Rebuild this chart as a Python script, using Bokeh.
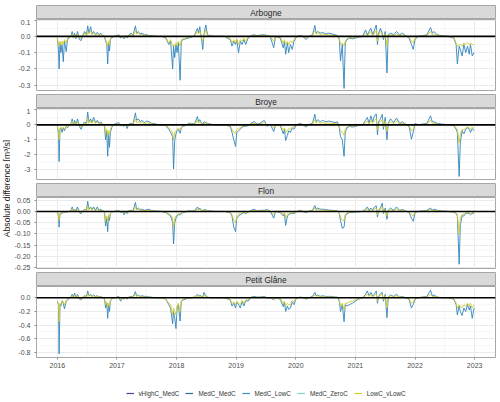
import math
from bokeh.plotting import figure
from bokeh.layouts import column, row
from bokeh.models import (ColumnDataSource, FixedTicker, Span, Legend, LegendItem,
                          Range1d, PrintfTickFormatter)
from bokeh.core.properties import value
from bokeh.embed import file_html
from bokeh.resources import INLINE

FONT = "Liberation Sans"

# ---------------- data (decimal years) ----------------
dates = [
    2016.00, 2016.02, 2016.03, 2016.045, 2016.06, 2016.08, 2016.10, 2016.12, 2016.15, 2016.17,
    2016.20, 2016.23, 2016.25, 2016.27, 2016.29, 2016.31, 2016.34, 2016.37, 2016.40, 2016.43,
    2016.46, 2016.49, 2016.51, 2016.53, 2016.56, 2016.58, 2016.61, 2016.64, 2016.67, 2016.70,
    2016.73, 2016.76, 2016.79, 2016.81, 2016.83, 2016.845, 2016.86, 2016.875, 2016.89, 2016.92, 2016.96,
    2017.00, 2017.03, 2017.06, 2017.09, 2017.12, 2017.15, 2017.17, 2017.20, 2017.24, 2017.27,
    2017.31, 2017.33, 2017.36, 2017.39, 2017.42, 2017.46, 2017.50, 2017.54, 2017.58, 2017.62,
    2017.68, 2017.75, 2017.82, 2017.87, 2017.90, 2017.935, 2017.95, 2017.97, 2017.99,
    2018.01, 2018.03, 2018.06, 2018.08, 2018.11, 2018.15, 2018.20, 2018.25, 2018.30, 2018.35,
    2018.37, 2018.39, 2018.42, 2018.44, 2018.46, 2018.49, 2018.52, 2018.56, 2018.65, 2018.80,
    2018.90, 2018.93, 2018.96, 2018.99,
    2019.01, 2019.04, 2019.07, 2019.10, 2019.13, 2019.16, 2019.20, 2019.25, 2019.30, 2019.35,
    2019.40, 2019.47, 2019.52, 2019.57, 2019.63, 2019.66, 2019.74, 2019.79, 2019.81, 2019.83,
    2019.86, 2019.88, 2019.91, 2019.94, 2019.97,
    2020.00, 2020.04, 2020.08, 2020.12, 2020.17, 2020.22, 2020.28, 2020.32, 2020.34, 2020.37,
    2020.41, 2020.45, 2020.50, 2020.55, 2020.61, 2020.66, 2020.70, 2020.73, 2020.75, 2020.78,
    2020.81, 2020.83, 2020.86, 2020.90, 2020.95,
    2021.00, 2021.05, 2021.12, 2021.17, 2021.20, 2021.23, 2021.26, 2021.29, 2021.32, 2021.35,
    2021.37, 2021.39, 2021.42, 2021.45, 2021.47, 2021.50, 2021.53, 2021.55, 2021.59, 2021.64,
    2021.69, 2021.74, 2021.79, 2021.84, 2021.90, 2021.94, 2021.97,
    2022.00, 2022.05, 2022.12, 2022.20, 2022.26, 2022.29, 2022.32, 2022.37, 2022.45, 2022.55,
    2022.65, 2022.69, 2022.71, 2022.74, 2022.76, 2022.79, 2022.82, 2022.85, 2022.88, 2022.91,
    2022.93, 2022.96, 2022.99,
]

arbogne_medc_lowc = [
    -0.01, -0.08, -0.20, -0.04, -0.10, -0.05, -0.156, -0.03, -0.094, -0.02,
    -0.01, 0.005, 0.030, -0.010, 0.020, -0.015, 0.030, -0.02, -0.025, 0.010,
    0.030, 0.010, 0.065, 0.020, 0.060, 0.015, 0.030, 0.010, 0.025, 0.010,
    0.020, 0.005, 0.000, -0.03, -0.05, -0.17, -0.04, -0.09, -0.02, -0.005, 0.000,
    0.005, 0.010, -0.010, 0.000, -0.015, 0.005, -0.01, 0.010, 0.020, 0.005,
    0.065, 0.020, 0.030, 0.015, 0.020, 0.010, 0.010, 0.005, 0.005, 0.002,
    0.000, 0.000, -0.01, -0.05, -0.03, -0.20, -0.06, -0.13, -0.05,
    -0.10, -0.04, -0.27, -0.03, -0.02, -0.015, -0.01, -0.005, 0.005, 0.050,
    0.020, 0.060, -0.02, -0.08, 0.010, 0.070, 0.010, 0.003, 0.000, 0.000,
    -0.02, -0.06, -0.03, -0.05,
    -0.02, -0.10, -0.03, -0.05, -0.02, -0.05, -0.01, 0.005, 0.010, 0.005,
    0.008, 0.010, 0.005, 0.000, -0.07, 0.000, -0.01, -0.07, -0.03, -0.11,
    -0.04, -0.10, -0.05, -0.08, -0.03,
    -0.01, 0.003, 0.005, 0.000, -0.02, 0.000, 0.010, 0.067, 0.020, 0.030,
    0.020, 0.025, 0.015, 0.020, 0.015, 0.010, 0.005, -0.02, -0.15, -0.05,
    -0.32, -0.04, -0.02, -0.01, -0.015,
    -0.01, -0.005, 0.000, 0.040, 0.010, 0.030, 0.050, 0.010, 0.040, 0.070,
    -0.05, 0.020, 0.050, 0.020, -0.02, 0.030, -0.225, 0.010, 0.020, 0.010,
    0.030, 0.010, 0.020, 0.005, -0.01, -0.05, -0.08,
    -0.02, 0.000, 0.003, 0.010, 0.055, 0.020, 0.030, 0.010, 0.003, 0.000,
    -0.01, -0.05, -0.17, -0.06, -0.08, -0.12, -0.05, -0.10, -0.06, -0.11,
    -0.05, -0.12, -0.10,
]
arbogne_lowc_vlowc = [
    -0.01, -0.05, -0.06, -0.03, -0.05, -0.03, -0.05, -0.02, -0.04, -0.01,
    -0.005, 0.003, 0.015, -0.005, 0.010, -0.01, 0.015, -0.01, -0.01, 0.005,
    0.020, 0.005, 0.030, 0.015, 0.035, 0.010, 0.020, 0.010, 0.015, 0.005,
    0.010, 0.003, 0.000, -0.02, -0.04, -0.06, -0.03, -0.05, -0.015, -0.003, 0.000,
    0.003, 0.005, -0.005, 0.000, -0.01, 0.003, -0.005, 0.005, 0.010, 0.003,
    0.035, 0.015, 0.020, 0.010, 0.010, 0.005, 0.005, 0.003, 0.003, 0.001,
    0.000, 0.000, -0.005, -0.04, -0.02, -0.06, -0.05, -0.06, -0.04,
    -0.05, -0.03, -0.06, -0.02, -0.015, -0.01, -0.005, -0.003, 0.003, 0.030,
    0.015, 0.035, -0.01, -0.03, 0.005, 0.040, 0.005, 0.002, 0.000, 0.000,
    -0.01, -0.04, -0.02, -0.04,
    -0.015, -0.05, -0.02, -0.03, -0.01, -0.03, -0.005, 0.003, 0.005, 0.003,
    0.004, 0.005, 0.003, 0.000, -0.03, 0.000, -0.005, -0.04, -0.02, -0.05,
    -0.03, -0.05, -0.03, -0.04, -0.02,
    -0.005, 0.002, 0.003, 0.000, -0.01, 0.000, 0.005, 0.035, 0.015, 0.020,
    0.010, 0.015, 0.010, 0.010, 0.008, 0.005, 0.003, -0.01, -0.05, -0.04,
    -0.06, -0.03, -0.015, -0.005, -0.01,
    -0.005, -0.003, 0.000, 0.020, 0.005, 0.015, 0.030, 0.005, 0.020, 0.040,
    -0.03, 0.010, 0.030, 0.010, -0.01, 0.015, -0.06, 0.005, 0.010, 0.005,
    0.015, 0.005, 0.010, 0.003, -0.005, -0.03, -0.04,
    -0.01, 0.000, 0.002, 0.005, 0.030, 0.010, 0.015, 0.005, 0.002, 0.000,
    -0.005, -0.04, -0.06, -0.05, -0.05, -0.06, -0.04, -0.05, -0.04, -0.05,
    -0.04, -0.05, -0.05,
]

broye_medc_lowc = [
    -0.05, -0.60, -2.45, -0.30, -0.20, -0.50, -0.20, -0.40, -0.10, -0.20,
    -0.05, 0.10, 0.40, 0.00, 0.30, -0.05, 0.40, -0.10, -0.30, 0.05,
    0.20, 0.10, 0.85, 0.20, 0.40, 0.15, 0.50, 0.15, 0.30, 0.10,
    0.20, 0.05, 0.00, -1.00, -0.40, -2.10, -0.60, -1.50, -0.50, -0.10, 0.05,
    0.10, 0.15, -0.05, 0.00, -0.10, 0.05, -0.25, 0.05, 0.10, 0.05,
    0.80, 0.30, 0.40, 0.20, 0.30, 0.15, 0.25, 0.20, 0.10, 0.10,
    0.02, 0.00, -0.05, -0.30, -0.50, -0.80, -2.95, -1.00, -0.60,
    -0.40, -0.30, -0.56, -0.20, -0.10, -0.05, 0.10, 0.10, 0.05, 0.55,
    0.20, 0.35, 0.10, 0.05, 0.20, 0.15, 0.10, 0.05, 0.00, 0.00,
    -0.10, -0.50, -1.00, -1.45,
    -0.50, -0.40, -0.30, -0.15, -0.10, -0.10, -0.05, 0.10, 0.22, 0.05,
    0.10, 0.30, -0.10, 0.05, -0.45, 0.00, -0.05, -0.60, -0.30, -1.05,
    -0.70, -0.40, -0.50, -0.20, -0.30,
    -0.05, 0.05, 0.10, 0.00, -0.15, 0.02, 0.10, 0.71, 0.20, 0.35,
    0.20, 0.30, 0.20, 0.25, 0.20, 0.15, 0.20, -0.20, -0.80, -1.00,
    -2.10, -0.50, -0.20, -0.10, -0.15,
    -0.10, -0.05, 0.00, 0.30, 0.50, 0.10, 0.60, 0.20, 0.60, 0.73,
    -0.67, 0.20, 0.40, 0.70, -0.30, 0.50, -1.00, 0.10, 0.40, 0.15,
    0.45, 0.10, 0.20, 0.05, -0.10, -0.96, -0.50,
    0.10, 0.00, 0.05, 0.10, 0.60, 0.20, 0.20, 0.10, 0.05, 0.00,
    -0.05, -0.30, -0.50, -3.45, -1.20, -0.40, -0.60, -0.30, -0.20, -0.30,
    -0.50, -0.25, -0.40,
]
broye_lowc_vlowc = [
    -0.05, -0.50, -1.00, -0.25, -0.15, -0.30, -0.15, -0.30, -0.08, -0.15,
    -0.03, 0.05, 0.25, 0.00, 0.15, -0.03, 0.20, -0.05, -0.15, 0.03,
    0.10, 0.05, 0.45, 0.10, 0.25, 0.10, 0.30, 0.10, 0.20, 0.05,
    0.10, 0.03, 0.00, -0.50, -0.30, -0.80, -0.40, -0.60, -0.30, -0.05, 0.02,
    0.05, 0.08, -0.03, 0.00, -0.05, 0.03, -0.10, 0.03, 0.05, 0.03,
    0.40, 0.15, 0.20, 0.10, 0.15, 0.08, 0.12, 0.10, 0.05, 0.05,
    0.01, 0.00, -0.03, -0.20, -0.30, -0.50, -1.00, -0.50, -0.40,
    -0.30, -0.20, -0.35, -0.15, -0.05, -0.03, 0.05, 0.05, 0.03, 0.30,
    0.10, 0.20, 0.05, 0.03, 0.10, 0.08, 0.05, 0.03, 0.00, 0.00,
    -0.05, -0.30, -0.50, -0.60,
    -0.30, -0.25, -0.20, -0.10, -0.05, -0.05, -0.03, 0.05, 0.10, 0.03,
    0.05, 0.15, -0.05, 0.02, -0.20, 0.00, -0.03, -0.35, -0.20, -0.50,
    -0.40, -0.25, -0.30, -0.15, -0.15,
    -0.03, 0.03, 0.05, 0.00, -0.08, 0.01, 0.05, 0.35, 0.12, 0.20,
    0.10, 0.15, 0.10, 0.12, 0.10, 0.08, 0.10, -0.10, -0.40, -0.50,
    -0.70, -0.30, -0.10, -0.05, -0.08,
    -0.05, -0.03, 0.00, 0.15, 0.25, 0.05, 0.30, 0.10, 0.30, 0.40,
    -0.35, 0.10, 0.20, 0.35, -0.15, 0.25, -0.45, 0.05, 0.20, 0.08,
    0.25, 0.05, 0.10, 0.03, -0.05, -0.40, -0.30,
    0.05, 0.00, 0.03, 0.05, 0.30, 0.10, 0.10, 0.05, 0.02, 0.00,
    -0.03, -0.20, -0.30, -1.20, -0.60, -0.30, -0.35, -0.20, -0.15, -0.20,
    -0.30, -0.15, -0.25,
]

flon_medc_lowc = [
    -0.002, -0.020, -0.070, -0.010, -0.010, -0.008, -0.005, -0.004, -0.003, -0.002,
    0.000, 0.005, 0.020, 0.002, 0.010, 0.000, 0.020, -0.005, -0.010, 0.003,
    0.010, 0.005, 0.045, 0.010, 0.020, 0.008, 0.020, 0.005, 0.020, 0.005,
    0.010, 0.002, 0.000, -0.065, -0.030, -0.090, -0.020, -0.040, -0.010, -0.002, 0.000,
    0.002, 0.005, -0.005, 0.000, -0.015, 0.002, -0.010, 0.003, 0.005, 0.002,
    0.040, 0.010, 0.015, 0.008, 0.010, 0.005, 0.008, 0.010, 0.003, 0.003,
    0.001, 0.000, -0.005, -0.015, -0.020, -0.050, -0.145, -0.050, -0.030,
    -0.020, -0.015, -0.015, -0.010, -0.005, -0.003, 0.003, 0.002, 0.002, 0.020,
    0.008, 0.015, 0.005, 0.003, 0.008, 0.006, 0.004, 0.002, 0.000, 0.000,
    -0.005, -0.020, -0.070, -0.090,
    -0.030, -0.020, -0.015, -0.010, -0.005, -0.010, -0.003, 0.005, 0.010, 0.002,
    0.005, 0.005, 0.008, 0.002, -0.030, 0.000, -0.005, -0.020, -0.010, -0.062,
    -0.020, -0.015, -0.010, -0.008, -0.010,
    -0.003, 0.002, 0.005, 0.000, -0.005, 0.001, 0.005, 0.026, 0.010, 0.015,
    0.010, 0.010, 0.008, 0.006, 0.005, 0.004, 0.003, -0.010, -0.040, -0.075,
    -0.070, -0.020, -0.010, -0.005, -0.005,
    -0.003, -0.002, 0.000, 0.010, 0.020, 0.005, 0.015, 0.005, 0.020, 0.025,
    -0.025, 0.005, 0.015, 0.037, -0.010, 0.015, -0.035, 0.005, 0.015, 0.005,
    0.020, 0.005, 0.008, 0.002, -0.005, -0.030, -0.044,
    -0.005, 0.000, 0.002, 0.005, 0.015, 0.005, 0.010, 0.005, 0.002, 0.000,
    -0.003, -0.010, -0.020, -0.235, -0.060, -0.020, -0.020, -0.010, -0.008, -0.010,
    -0.015, -0.008, -0.010,
]
flon_lowc_vlowc = [
    -0.002, -0.015, -0.040, -0.008, -0.008, -0.005, -0.004, -0.003, -0.002, -0.001,
    0.000, 0.003, 0.012, 0.001, 0.008, 0.000, 0.010, -0.003, -0.005, 0.002,
    0.008, 0.003, 0.025, 0.008, 0.015, 0.005, 0.012, 0.004, 0.010, 0.003,
    0.005, 0.001, 0.000, -0.040, -0.020, -0.050, -0.015, -0.025, -0.008, -0.001, 0.000,
    0.001, 0.003, -0.003, 0.000, -0.008, 0.001, -0.005, 0.002, 0.003, 0.001,
    0.020, 0.008, 0.010, 0.005, 0.006, 0.003, 0.004, 0.005, 0.002, 0.002,
    0.000, 0.000, -0.003, -0.010, -0.015, -0.030, -0.070, -0.030, -0.020,
    -0.015, -0.010, -0.010, -0.005, -0.003, -0.002, 0.002, 0.001, 0.001, 0.012,
    0.005, 0.010, 0.003, 0.002, 0.005, 0.004, 0.002, 0.001, 0.000, 0.000,
    -0.003, -0.015, -0.040, -0.050,
    -0.020, -0.010, -0.010, -0.005, -0.003, -0.005, -0.002, 0.003, 0.005, 0.001,
    0.003, 0.003, 0.004, 0.001, -0.015, 0.000, -0.003, -0.012, -0.006, -0.030,
    -0.012, -0.010, -0.006, -0.005, -0.006,
    -0.002, 0.001, 0.003, 0.000, -0.003, 0.001, 0.003, 0.015, 0.006, 0.008,
    0.005, 0.006, 0.004, 0.003, 0.003, 0.002, 0.002, -0.006, -0.025, -0.040,
    -0.040, -0.012, -0.006, -0.003, -0.003,
    -0.002, -0.001, 0.000, 0.006, 0.010, 0.003, 0.008, 0.003, 0.010, 0.015,
    -0.015, 0.003, 0.008, 0.020, -0.005, 0.008, -0.020, 0.003, 0.008, 0.003,
    0.010, 0.003, 0.004, 0.001, -0.003, -0.015, -0.020,
    -0.003, 0.000, 0.001, 0.003, 0.008, 0.003, 0.005, 0.003, 0.001, 0.000,
    -0.002, -0.008, -0.015, -0.100, -0.030, -0.012, -0.012, -0.006, -0.005, -0.006,
    -0.010, -0.005, -0.006,
]

petit_glane_medc_lowc = [
    -0.05, -0.10, -0.82, -0.10, -0.12, -0.05, -0.08, -0.16, -0.05, -0.03,
    -0.01, 0.02, 0.05, 0.01, 0.07, 0.00, 0.05, -0.02, -0.03, 0.01,
    0.03, 0.02, 0.10, 0.03, 0.05, 0.02, 0.04, 0.02, 0.03, 0.01,
    0.02, 0.00, -0.01, -0.15, -0.08, -0.30, -0.10, -0.20, -0.05, -0.01, 0.00,
    0.01, 0.02, -0.05, 0.00, -0.02, 0.01, -0.02, 0.01, 0.02, 0.01,
    0.09, 0.03, 0.04, 0.02, 0.03, 0.02, 0.02, 0.01, 0.01, 0.00,
    0.00, 0.00, -0.02, -0.10, -0.15, -0.38, -0.20, -0.30, -0.45,
    -0.15, -0.10, -0.34, -0.05, -0.03, -0.02, 0.00, 0.00, 0.01, 0.05,
    0.02, 0.04, 0.02, 0.01, 0.078, 0.03, 0.01, 0.00, 0.00, 0.00,
    -0.03, -0.12, -0.08, -0.15,
    -0.06, -0.10, -0.15, -0.05, -0.12, -0.04, -0.05, 0.01, 0.02, 0.01,
    0.01, 0.02, 0.00, 0.00, -0.03, 0.00, -0.02, -0.13, -0.06, -0.20,
    -0.12, -0.17, -0.15, -0.06, -0.10,
    -0.02, 0.00, 0.01, 0.00, -0.02, 0.00, 0.02, 0.08, 0.03, 0.04,
    0.02, 0.03, 0.02, 0.02, 0.02, 0.01, 0.01, -0.05, -0.20, -0.10,
    -0.35, -0.10, -0.12, -0.10, -0.08,
    -0.05, -0.02, 0.00, 0.05, 0.10, 0.03, 0.08, 0.02, 0.06, 0.10,
    -0.08, 0.02, 0.06, 0.08, -0.05, 0.05, -0.29, 0.01, 0.04, 0.02,
    0.05, 0.01, 0.02, 0.00, -0.02, -0.15, -0.10,
    -0.02, 0.00, 0.01, 0.02, 0.11, 0.03, 0.04, 0.01, 0.00, 0.00,
    -0.02, -0.10, -0.25, -0.12, -0.20, -0.26, -0.15, -0.20, -0.10, -0.18,
    -0.12, -0.30, -0.15,
]
petit_glane_lowc_vlowc = [
    -0.05, -0.10, -0.35, -0.08, -0.10, -0.04, -0.06, -0.10, -0.04, -0.02,
    -0.01, 0.01, 0.03, 0.00, 0.04, 0.00, 0.03, -0.01, -0.02, 0.01,
    0.02, 0.01, 0.06, 0.02, 0.04, 0.01, 0.03, 0.01, 0.02, 0.01,
    0.01, 0.00, -0.01, -0.10, -0.06, -0.15, -0.08, -0.12, -0.04, -0.01, 0.00,
    0.01, 0.01, -0.03, 0.00, -0.01, 0.00, -0.01, 0.01, 0.01, 0.01,
    0.05, 0.02, 0.03, 0.01, 0.02, 0.01, 0.01, 0.01, 0.00, 0.00,
    0.00, 0.00, -0.02, -0.08, -0.10, -0.25, -0.15, -0.20, -0.25,
    -0.12, -0.08, -0.20, -0.04, -0.02, -0.01, 0.00, 0.00, 0.01, 0.03,
    0.01, 0.03, 0.01, 0.01, 0.04, 0.02, 0.01, 0.00, 0.00, 0.00,
    -0.02, -0.08, -0.06, -0.10,
    -0.05, -0.08, -0.10, -0.04, -0.08, -0.03, -0.03, 0.01, 0.01, 0.00,
    0.01, 0.01, 0.00, 0.00, -0.02, 0.00, -0.01, -0.08, -0.05, -0.12,
    -0.08, -0.10, -0.10, -0.04, -0.06,
    -0.01, 0.00, 0.01, 0.00, -0.01, 0.00, 0.01, 0.04, 0.02, 0.03,
    0.01, 0.02, 0.01, 0.01, 0.01, 0.01, 0.00, -0.03, -0.12, -0.08,
    -0.18, -0.08, -0.08, -0.06, -0.05,
    -0.03, -0.01, 0.00, 0.03, 0.05, 0.02, 0.05, 0.01, 0.04, 0.06,
    -0.05, 0.01, 0.04, 0.05, -0.03, 0.03, -0.15, 0.01, 0.03, 0.01,
    0.03, 0.01, 0.01, 0.00, -0.01, -0.08, -0.06,
    -0.01, 0.00, 0.01, 0.01, 0.05, 0.02, 0.02, 0.01, 0.00, 0.00,
    -0.01, -0.08, -0.15, -0.10, -0.12, -0.15, -0.10, -0.12, -0.08, -0.12,
    -0.08, -0.15, -0.10,
]

catchments = ["Arbogne", "Broye", "Flon", "Petit Glâne"]
series_names = ["vHighC_MedC", "MedC_MedC", "MedC_LowC", "MedC_ZeroC", "LowC_vLowC"]
series_colors = ["#5b3f9f", "#2d6e96", "#3a90c8", "#86d5cb", "#d4cd2c"]
line_color_lowc = "#3184bd"

year_ticks = [2016, 2017, 2018, 2019, 2020, 2021, 2022, 2023]
arbogne_ticks = [-0.3, -0.2, -0.1, 0.0, 0.1]
broye_ticks = [-3, -2, -1, 0, 1]
flon_ticks = [-0.25, -0.20, -0.15, -0.10, -0.05, 0.00, 0.05]
petit_glane_ticks = [-0.8, -0.6, -0.4, -0.2, 0.0]

# ---------------- styling / layout ----------------
X_RANGE = (2015.651, 2023.35)
GRID = "#ebebeb"
MINOR = "#f4f4f4"
BORDER = "#a6a6a6"
W = 490
LEFT = 26

panel_specs = [
    (arbogne_medc_lowc, arbogne_lowc_vlowc, (-0.333, 0.104), arbogne_ticks, "%.1f"),
    (broye_medc_lowc, broye_lowc_vlowc, (-3.65, 1.09), broye_ticks, "%.0f"),
    (flon_medc_lowc, flon_lowc_vlowc, (-0.254, 0.062), flon_ticks, "%.2f"),
    (petit_glane_medc_lowc, petit_glane_lowc_vlowc, (-0.873, 0.165), petit_glane_ticks, "%.1f"),
]


def mids(t):
    return [(a + b) / 2 for a, b in zip(t[:-1], t[1:])]


def strip_fig(name, top):
    s = figure(width=W, height=14 + top, x_range=Range1d(0, 1), y_range=Range1d(0, 1),
               output_backend="svg", toolbar_location=None,
               x_axis_location=None, y_axis_location=None,
               min_border_left=LEFT, min_border_right=5, min_border_top=top, min_border_bottom=0,
               background_fill_color="#d9d9d9", border_fill_color="white",
               outline_line_color=BORDER)
    s.grid.visible = False
    s.text(x=[0.5], y=[0.5], text=[name], text_align="center", text_baseline="middle",
           text_font=value(FONT), text_font_size="8.3px", text_color="#262626")
    return s


blocks = []
for i, (name, (lowc, vlowc, yr, yticks, fmt)) in enumerate(zip(catchments, panel_specs)):
    last = i == len(catchments) - 1
    blocks.append(strip_fig(name, 5 if i == 0 else 0))
    p = figure(width=W, height=86 if last else 75,
               x_range=Range1d(*X_RANGE), y_range=Range1d(*yr),
               output_backend="svg", toolbar_location=None,
               x_axis_location="below" if last else None,
               min_border_left=LEFT, min_border_right=5, min_border_top=0,
               min_border_bottom=15 if last else 4,
               background_fill_color="white", border_fill_color="white",
               outline_line_color=BORDER)
    xt = FixedTicker(ticks=year_ticks, minor_ticks=mids(year_ticks))
    yt = FixedTicker(ticks=yticks, minor_ticks=mids(yticks))
    p.xgrid.ticker = xt
    p.ygrid.ticker = yt
    for g in (p.xgrid, p.ygrid):
        g.grid_line_color = GRID
        g.grid_line_width = 1
        g.minor_grid_line_color = MINOR
        g.minor_grid_line_width = 0.7

    p.yaxis.ticker = yt
    p.yaxis.formatter = PrintfTickFormatter(format=fmt)
    p.yaxis.axis_line_color = None
    p.yaxis.major_tick_line_color = "#8c8c8c"
    p.yaxis.major_tick_out = 2
    p.yaxis.major_tick_in = 0
    p.yaxis.minor_tick_line_color = None
    p.yaxis.major_label_standoff = 2
    p.yaxis.major_label_text_font = FONT
    p.yaxis.major_label_text_font_size = "7px"
    p.yaxis.major_label_text_color = "#4d4d4d"

    src = ColumnDataSource(dict(x=dates, lowc=lowc, vlowc=vlowc))
    p.line("x", "lowc", source=src, line_color=line_color_lowc, line_width=0.9)
    p.line("x", "vlowc", source=src, line_color=series_colors[4], line_width=0.9)
    p.add_layout(Span(location=0, dimension="width", line_color="black", line_width=1.6))

    if last:
        p.xaxis.ticker = xt
        p.xaxis.formatter = PrintfTickFormatter(format="%d")
        p.xaxis.axis_line_color = None
        p.xaxis.major_tick_line_color = "#8c8c8c"
        p.xaxis.major_tick_out = 2
        p.xaxis.major_tick_in = 0
        p.xaxis.minor_tick_line_color = None
        p.xaxis.major_label_standoff = 1
        p.xaxis.major_label_text_font = FONT
        p.xaxis.major_label_text_font_size = "7px"
        p.xaxis.major_label_text_color = "#4d4d4d"
    blocks.append(p)

# legend strip (keys for the five scenario series)
used = 19 + 3 * 75 + 3 * 14 + 86
leg_h = 402 - used
lf = figure(width=W, height=leg_h, x_range=Range1d(0, 1), y_range=Range1d(0, 1),
            output_backend="svg", toolbar_location=None,
            x_axis_location=None, y_axis_location=None,
            min_border_left=LEFT, min_border_right=5, min_border_top=leg_h - 18, min_border_bottom=0,
            outline_line_color=None, border_fill_color="white", background_fill_color="white")
lf.grid.visible = False
items = []
for n, c in zip(series_names, series_colors):
    key_src = ColumnDataSource(dict(x=[float("nan")], y=[float("nan")]))
    r = lf.line("x", "y", source=key_src, line_color=c, line_width=1.2)
    items.append(LegendItem(label=n, renderers=[r]))
legend = Legend(items=items, orientation="horizontal", location="center",
                label_text_font=FONT, label_text_font_size="6.3px",
                label_text_color="#333333", glyph_width=8, glyph_height=8,
                label_height=8, label_standoff=5, spacing=6, padding=0, margin=0,
                border_line_color=None, background_fill_alpha=0)
lf.add_layout(legend, "center")
blocks.append(lf)

ylab = figure(width=10, height=402, x_range=Range1d(0, 10), y_range=Range1d(0, 402),
              output_backend="svg", toolbar_location=None,
              x_axis_location=None, y_axis_location=None, min_border=0,
              outline_line_color=None, border_fill_color="white")
ylab.grid.visible = False
ylab.text(x=[6], y=[402 - 188], text=["Absolute difference [m³/s]"], angle=math.pi / 2,
          text_align="center", text_baseline="middle", text_font=value(FONT),
          text_font_size="8.6px", text_color="#1a1a1a")

layout = row(ylab, column(*blocks, spacing=0), spacing=0)
open("out.html", "w").write(file_html(layout, INLINE))
